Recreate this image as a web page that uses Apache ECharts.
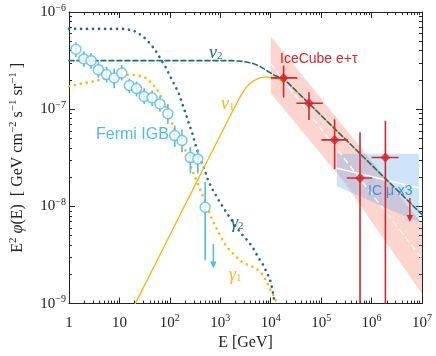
<!DOCTYPE html>
<html>
<head>
<meta charset="utf-8">
<script src="https://cdn.jsdelivr.net/npm/echarts@6/dist/echarts.min.js"></script>
<style>
  html, body { margin: 0; padding: 0; background: #fff; }
  #chart { width: 436px; height: 356px; }
</style>
</head>
<body>
<div id="chart"></div>
<script>
// Fermi IGB points (GeV, GeV cm^-2 s^-1 sr^-1)
const fermiE  = [1.37, 1.97, 2.74, 3.82, 5.56, 7.87, 11.1, 15.7, 21.8, 30.9, 44.4, 63.7, 91.3, 125, 174, 255, 359, 501];
const fermiF  = [4.14e-7, 3.29e-7, 3.16e-7, 2.55e-7, 2.27e-7, 2.10e-7, 2.36e-7, 1.75e-7, 1.63e-7, 1.35e-7, 1.31e-7, 1.13e-7, 8.98e-8, 5.35e-8, 4.76e-8, 3.18e-8, 3.07e-8, 9.8e-9];
const fermiHi = [4.88e-7, 3.95e-7, 3.78e-7, 3.06e-7, 2.73e-7, 2.60e-7, 2.85e-7, 2.07e-7, 1.93e-7, 1.64e-7, 1.56e-7, 1.36e-7, 1.13e-7, 6.8e-8, 6.2e-8, 4.08e-8, 3.9e-8, 1.78e-8];
const fermiLo = [3.44e-7, 2.73e-7, 2.61e-7, 2.11e-7, 1.88e-7, 1.64e-7, 1.97e-7, 1.46e-7, 1.36e-7, 1.13e-7, 1.08e-7, 9.4e-8, 7.1e-8, 4.08e-8, 3.6e-8, 2.18e-8, 2.18e-8, 2.8e-9];
const fermiUL = [729, 4.1e-9, 2.3e-9];   // E, top, arrow tip

// IceCube e+tau
const icE   = [1.8e4, 5.74e4, 1.85e5, 5.9e5, 1.88e6];
const icF   = [2.1e-7, 1.15e-7, 4.83e-8, 1.96e-8, 3.18e-8];
const icElo = [1.01e4, 3.24e4, 1.01e5, 3.24e5, 1.0e6];
const icEhi = [3.38e4, 1.08e5, 3.38e5, 1.03e6, 3.43e6];
const icFlo = [1.32e-7, 7.76e-8, 2.43e-8, 1e-10, 1e-10];
const icFhi = [2.81e-7, 1.49e-7, 7.87e-8, 5.78e-8, 7.59e-8];
const icUL  = [5.74e6, 1.22e-8, 6.9e-9];

// IceCube band and best fit
const bandE = [1e4, 1e7, 1e7, 2.59e5, 1e4];
const bandF = [5.64e-7, 6.68e-9, 1.26e-9, 1.9e-8, 1.46e-7];
const fitE  = [1e4, 1e7];
const fitF  = [2.93e-7, 2.9e-9];

// IC mu x3 box and best fit
const muE = [2.06e5, 8.73e6, 8.73e6, 2.06e5];
const muF = [3.49e-8, 3.49e-8, 6.84e-9, 1.61e-8];
const muFitE = [2.06e5, 8.73e6];
const muFitF = [2.47e-8, 1.55e-8];

// model curves
const nu2E = [1, 1800, 2820, 4440, 6370, 8730, 1.2e4, 1.8e4, 1e5, 1e6, 1e7];
const nu2F = [3.16e-7, 3.16e-7, 3.10e-7, 2.96e-7, 2.73e-7, 2.46e-7, 2.22e-7, 2.07e-7, 8.63e-8, 2.67e-8, 8.24e-9];
const nu1E = [20.6, 48.6, 188, 729, 1440, 2260, 2960, 3710, 4650, 6090, 7980, 1.09e4, 2.15e4, 1e5, 1e6, 1e7];
const nu1F = [1e-9, 2.41e-9, 9.7e-9, 3.9e-8, 7.82e-8, 1.23e-7, 1.57e-7, 1.80e-7, 1.97e-7, 2.10e-7, 2.15e-7, 2.11e-7, 1.88e-7, 8.63e-8, 2.67e-8, 8.24e-9];
const gam2E = [1, 12.5, 18, 22.8, 30.9, 41.8, 52.5, 65.7, 82.3, 95.5, 120, 150, 174, 203, 236, 274, 319, 400, 464, 582, 729, 986, 1330, 1800, 2430, 3540, 4440, 5560, 6970, 8730, 1.01e4, 1.09e4, 1.2e4];
const gam2F = [6.7e-7, 6.7e-7, 6.49e-7, 6.15e-7, 5.47e-7, 4.66e-7, 3.98e-7, 3.29e-7, 2.71e-7, 2.32e-7, 1.84e-7, 1.46e-7, 1.16e-7, 9.19e-8, 7.28e-8, 5.78e-8, 4.41e-8, 3.0e-8, 2.57e-8, 1.81e-8, 1.44e-8, 1.10e-8, 8.63e-9, 6.85e-9, 5.47e-9, 4.41e-9, 3.75e-9, 3.04e-9, 2.53e-9, 2.0e-9, 1.65e-9, 1.35e-9, 1e-9];
const gam1E = [1, 1.8, 3.24, 5.9, 10.8, 16.9, 22.8, 30.9, 38.7, 48.5, 60.8, 76.3, 95.5, 120, 162, 203, 274, 400, 538, 729, 1060, 1330, 1800, 2620, 3540, 5150, 6450, 7620, 8730, 1.01e4, 1.2e4, 1.31e4];
const gam1F = [1.72e-7, 1.84e-7, 1.94e-7, 2.10e-7, 2.23e-7, 2.27e-7, 2.23e-7, 2.15e-7, 1.97e-7, 1.74e-7, 1.49e-7, 1.19e-7, 8.77e-8, 6.41e-8, 4.77e-8, 3.78e-8, 2.38e-8, 1.5e-8, 1.02e-8, 6.85e-9, 4.69e-9, 3.86e-9, 3.26e-9, 2.71e-9, 2.5e-9, 2.3e-9, 2.08e-9, 1.83e-9, 1.59e-9, 1.36e-9, 1.15e-9, 1e-9];

// axis ticks (log10 space)
const xMajor = [0, 1, 2, 3, 4, 5, 6, 7];
const yMajor = [-9, -8, -7, -6];

const L = Math.log10;
const pairs = (xs, ys) => xs.map((x, i) => [L(x), L(ys[i])]);
const minorOf = (decades) => {
  const out = [];
  decades.forEach(d => { for (let k = 2; k <= 9; k++) out.push(d + L(k)); });
  return out;
};
const xMinor = minorOf(xMajor.slice(0, -1));
const yMinor = minorOf(yMajor.slice(0, -1));

const orange = '#fdb515';
const teal = '#1b6b8c';
const fermiBlue = '#4dbde8';
const red = '#d3272c';
const muBlue = '#3f93e6';
const ink = '#222';
const serif = '"Liberation Serif", "DejaVu Serif", serif';
const sans = '"Liberation Sans", Arial, sans-serif';

const tickRich = {
  b: { fontFamily: serif, fontSize: 15, color: ink, lineHeight: 18 },
  s: { fontFamily: serif, fontSize: 10, color: ink, lineHeight: 8, verticalAlign: 'top' }
};
const xLabel = v => v === 0 ? '{b|1}' : v === 1 ? '{b|10}' : '{b|10}{s|' + v + '}';
const yLabel = v => '{b|10}{s|−' + Math.abs(v) + '}';

function majorAxis(pos, min, max, showLabel, fmt) {
  return {
    type: 'value', position: pos, min: min, max: max, interval: 1,
    axisLine: { show: true, onZero: false, lineStyle: { color: ink, width: 1 } },
    axisTick: { show: true, inside: true, length: 6, lineStyle: { color: ink } },
    axisLabel: { show: showLabel, formatter: fmt, rich: tickRich, margin: pos === 'left' ? 3 : 10 },
    splitLine: { show: false }
  };
}
function minorAxis(pos, min, max, vals) {
  return {
    type: 'value', position: pos, min: min, max: max,
    axisLine: { show: false, onZero: false },
    axisTick: { show: true, inside: true, length: 3, customValues: vals, lineStyle: { color: ink } },
    axisLabel: { show: false },
    splitLine: { show: false }
  };
}

const xBottom = majorAxis('bottom', 0, 7, true, xLabel);
xBottom.name = 'E [GeV]';
xBottom.nameLocation = 'middle';
xBottom.nameGap = 29;
xBottom.nameTextStyle = { fontFamily: serif, fontSize: 16, color: ink };

const yLeft = majorAxis('left', -9, -6, true, yLabel);
yLeft.name = '{t|E}{s|2}{i| φ}{t|(E)  [ GeV cm}{s|−2}{t| s}{s|−1}{t| sr}{s|−1}{t| ]}';
yLeft.nameLocation = 'middle';
yLeft.nameRotate = 90;
yLeft.nameGap = 41;
yLeft.nameTextStyle = {
  rich: {
    t: { fontFamily: serif, fontSize: 16, color: ink, lineHeight: 20 },
    i: { fontFamily: serif, fontSize: 16, fontStyle: 'italic', color: ink, lineHeight: 20 },
    s: { fontFamily: serif, fontSize: 11, color: ink, lineHeight: 10, verticalAlign: 'top' }
  }
};

// custom series helpers
function vBars(xs, lo, hi, color, w, z) {
  return {
    type: 'custom', z: z, clip: true, silent: true,
    data: xs.map((x, i) => [L(x), L(lo[i]), L(hi[i])]),
    renderItem: (params, api) => {
      const a = api.coord([api.value(0), api.value(1)]);
      const b = api.coord([api.value(0), api.value(2)]);
      return { type: 'line', shape: { x1: a[0], y1: a[1], x2: b[0], y2: b[1] }, style: { stroke: color, lineWidth: w } };
    }
  };
}
function hBars(lo, hi, ys, color, w, z) {
  return {
    type: 'custom', z: z, clip: true, silent: true,
    data: ys.map((y, i) => [L(lo[i]), L(hi[i]), L(y)]),
    renderItem: (params, api) => {
      const a = api.coord([api.value(0), api.value(2)]);
      const b = api.coord([api.value(1), api.value(2)]);
      return { type: 'line', shape: { x1: a[0], y1: a[1], x2: b[0], y2: b[1] }, style: { stroke: color, lineWidth: w } };
    }
  };
}
function arrow(ul, color, z) {
  return {
    type: 'custom', z: z, clip: true, silent: true,
    data: [[L(ul[0]), L(ul[1]), L(ul[2])]],
    renderItem: (params, api) => {
      const a = api.coord([api.value(0), api.value(1)]);
      const b = api.coord([api.value(0), api.value(2)]);
      return {
        type: 'group', children: [
          { type: 'line', shape: { x1: a[0], y1: a[1], x2: b[0], y2: b[1] - 5 }, style: { stroke: color, lineWidth: 1.5 } },
          { type: 'polygon', shape: { points: [[b[0] - 3.2, b[1] - 7], [b[0] + 3.2, b[1] - 7], [b[0], b[1]]] }, style: { fill: color } }
        ]
      };
    }
  };
}
function poly(xs, ys, fill, z) {
  return {
    type: 'custom', z: z, clip: true, silent: true,
    data: [[L(xs[0]), L(ys[0])]],
    renderItem: (params, api) => ({
      type: 'polygon',
      shape: { points: xs.map((x, i) => api.coord([L(x), L(ys[i])])) },
      style: { fill: fill }
    })
  };
}
function curve(xs, ys, color, width, type, z) {
  return {
    type: 'line', z: z, silent: true, showSymbol: false, symbol: 'none',
    data: pairs(xs, ys),
    lineStyle: { color: color, width: width, type: type, cap: 'round' }
  };
}

function greek(ch, sub, color, x, y) {
  return {
    type: 'text', x: x, y: y, z: 100, silent: true,
    style: {
      text: '{g|' + ch + '}{d|' + sub + '}',
      verticalAlign: 'middle',
      rich: {
        g: { fontFamily: serif, fontStyle: 'italic', fontSize: 18, fill: color, color: color, lineHeight: 18 },
        d: { fontFamily: serif, fontSize: 11, fill: color, color: color, lineHeight: 10, verticalAlign: 'bottom' }
      }
    }
  };
}
function label(text, color, size, x, y) {
  return {
    type: 'text', x: x, y: y, z: 100, silent: true,
    style: { text: text, fill: color, font: size + 'px ' + sans, verticalAlign: 'middle' }
  };
}

const option = {
  animation: false,
  backgroundColor: '#fff',
  grid: { left: 64, right: 14, top: 12, bottom: 46 },
  xAxis: [
    xBottom,
    minorAxis('bottom', 0, 7, xMinor),
    majorAxis('top', 0, 7, false),
    minorAxis('top', 0, 7, xMinor)
  ],
  yAxis: [
    yLeft,
    minorAxis('left', -9, -6, yMinor),
    majorAxis('right', -9, -6, false),
    minorAxis('right', -9, -6, yMinor)
  ],
  series: [
    poly(bandE, bandF, 'rgba(245,115,95,0.3)', 1),
    poly(muE, muF, 'rgba(88,165,242,0.3)', 2),
    curve(fitE, fitF, '#fff', 1.3, [5, 5], 3),
    curve(muFitE, muFitF, '#fff', 1.5, 'solid', 3),
    curve(gam1E, gam1F, orange, 2.6, [0.1, 5.9], 4),
    curve(gam2E, gam2F, teal, 2.6, [0.1, 5.9], 4),
    curve(nu1E, nu1F, orange, 1.4, 'solid', 4),
    curve(nu2E, nu2F, teal, 1.6, [5, 3], 5),
    vBars(fermiE, fermiLo, fermiHi, fermiBlue, 1.6, 6),
    arrow(fermiUL, fermiBlue, 6),
    {
      type: 'scatter', z: 7, silent: true, symbol: 'circle', symbolSize: 10,
      data: pairs(fermiE, fermiF),
      itemStyle: { color: '#fff', borderColor: fermiBlue, borderWidth: 1.5 }
    },
    vBars(icE, icFlo, icFhi, red, 1.6, 6),
    hBars(icElo, icEhi, icF, red, 1.6, 6),
    arrow(icUL, red, 6),
    {
      type: 'scatter', z: 7, silent: true, symbol: 'diamond', symbolSize: 10,
      data: pairs(icE, icF),
      itemStyle: { color: red }
    }
  ],
  graphic: [
    greek('ν', '2', teal, 209, 53),
    greek('ν', '1', orange, 221, 104),
    greek('γ', '2', teal, 231, 223),
    greek('γ', '1', orange, 229, 275),
    label('Fermi IGB', fermiBlue, 16, 96, 135),
    label('IceCube e+τ', red, 14, 280, 59),
    label('IC μ x3', muBlue, 14, 368, 191)
  ]
};

const chart = echarts.init(document.getElementById('chart'));
chart.setOption(option);
</script>
</body>
</html>
